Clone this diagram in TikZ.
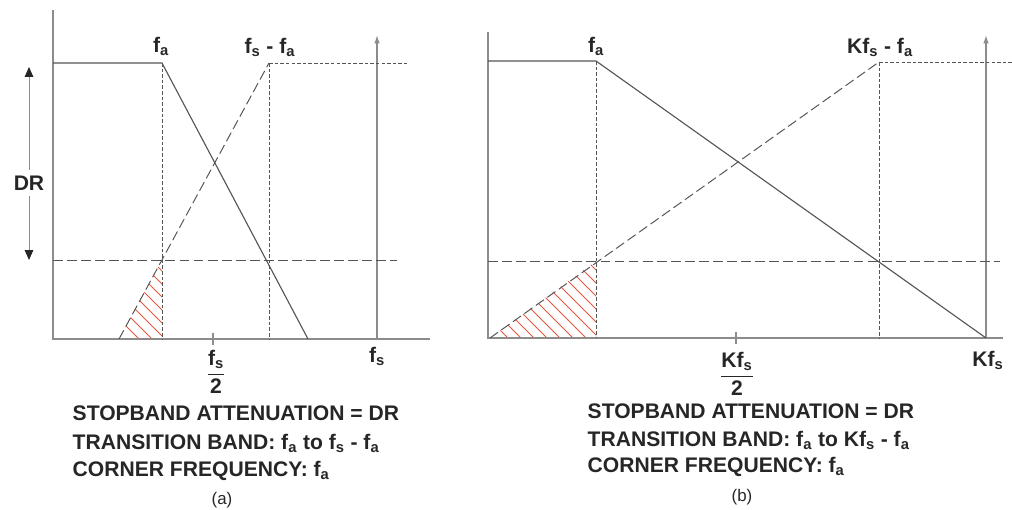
\documentclass[tikz,border=0pt]{standalone}
\usepackage{amsmath}
\usepackage{fontspec}
\setmainfont{Liberation Sans}
\usetikzlibrary{arrows.meta, positioning}
\definecolor{axisgray}{HTML}{8C8C8C}
\definecolor{linegray}{HTML}{555555}
\definecolor{hatchred}{HTML}{E8553F}

\begin{document}
\begin{tikzpicture}[x=0.025cm, y=-0.025cm,
  axis/.style={draw=axisgray, line width=1pt},
  resp/.style={draw=linegray, line width=0.8pt},
  longdash/.style={draw=linegray, line width=0.7pt, dash pattern=on 7pt off 3pt},
  shortdash/.style={draw=linegray, line width=0.6pt, dash pattern=on 2.5pt off 1.5pt},
  hatch/.style={draw=hatchred, line width=0.7pt},
  drarrow/.style={draw=axisgray, line width=0.7pt, -{Triangle[length=7pt,width=6pt,color=black!85,fill=black!85]}},
  every node/.style={font=\fontsize{15}{17}\selectfont\bfseries, text=black!85, inner sep=1pt}]
\useasboundingbox (0,0) rectangle (1012,510);

% (a) points
\coordinate (ao) at (53,339);
\coordinate (aytop) at (53,10);
\coordinate (axend) at (430,339);
\coordinate (apass) at (53,63);
\coordinate (afa) at (162,63);
\coordinate (afabot) at (162,339);
\coordinate (afadr) at (162,260);
\coordinate (afall) at (308,339);
\coordinate (arise) at (119,339);
\coordinate (afsfa) at (269,63);
\coordinate (afsfabot) at (269,339);
\coordinate (atopend) at (407,63);
\coordinate (adrl) at (53,260);
\coordinate (adrr) at (397,260);
\coordinate (afsbot) at (377,339);
\coordinate (afstop) at (377,35);
\coordinate (atick) at (213,339);

% (a) hatching
\begin{scope}
\clip (arise) -- (afadr) -- (afabot) -- cycle;
\foreach \i in {0,...,10}
  \draw[hatch] (40+\i*13,240) -- ++(120,120);
\end{scope}

% (a) axes and curves
\draw[axis] (aytop) -- (ao) -- (axend);
\draw[axis, -{Latex[length=6pt,width=4pt]}] (afsbot) -- (afstop);
\draw[axis] ([yshift=-4]atick) -- ([yshift=4]atick);
\draw[resp] (apass) -- (afa) -- (afall);
\draw[longdash] (arise) -- (afsfa);
\draw[shortdash] (afsfa) -- (atopend);
\draw[shortdash] (afa) -- (afabot);
\draw[shortdash] (afsfa) -- (afsfabot);
\draw[longdash] (adrl) -- (adrr);

% (a) DR arrow
\node (dr) at (29,183) {DR};
\coordinate (drtop) at (29,67);
\coordinate (drbot) at (29,260);
\draw[drarrow] (dr.north) ++(0,-4) -- (drtop);
\draw[drarrow] (dr.south) ++(0,4) -- (drbot);

% (a) labels
\node (lafa) at (161,46) {f\textsubscript{a}};
\node (lafsfa) at (270,47) {f\textsubscript{s} - f\textsubscript{a}};
\node (lafs) at (377,356) {f\textsubscript{s}};
\node (lafs2) at (216,372) {$\dfrac{\textbf{f\textsubscript{s}}}{\textbf{2}}$};
\node[anchor=west] (ta1) at (71,413) {STOPBAND ATTENUATION = DR};
\node[anchor=west] (ta2) at (71,443) {TRANSITION BAND: f\textsubscript{a} to f\textsubscript{s} - f\textsubscript{a}};
\node[anchor=west] (ta3) at (71,471) {CORNER FREQUENCY: f\textsubscript{a}};
\node[font=\fontsize{12}{14}\selectfont] (capa) at (222,500) {(a)};

% (b) points
\coordinate (bo) at (488,338);
\coordinate (bytop) at (488,32);
\coordinate (bxend) at (1003,338);
\coordinate (bpass) at (488,61);
\coordinate (bfa) at (596,61);
\coordinate (bfabot) at (596,338);
\coordinate (bfadr) at (596,261);
\coordinate (bfall) at (986,338);
\coordinate (brise) at (490,338);
\coordinate (bkfsfa) at (879,62);
\coordinate (bkfsfabot) at (879,338);
\coordinate (btopend) at (1012,62);
\coordinate (bdrl) at (488,261);
\coordinate (bdrr) at (1000,261);
\coordinate (bkfsbot) at (986,338);
\coordinate (bkfstop) at (986,35);
\coordinate (btick) at (736,338);

% (b) hatching
\begin{scope}
\clip (brise) -- (bfadr) -- (bfabot) -- cycle;
\foreach \i in {0,...,16}
  \draw[hatch] (400+\i*13,230) -- ++(130,130);
\end{scope}

% (b) axes and curves
\draw[axis] (bytop) -- (bo) -- (bxend);
\draw[axis, -{Latex[length=6pt,width=4pt]}] (bkfsbot) -- (bkfstop);
\draw[axis] ([yshift=-4]btick) -- ([yshift=4]btick);
\draw[resp] (bpass) -- (bfa) -- (bfall);
\draw[longdash] (brise) -- (bkfsfa);
\draw[shortdash] (bkfsfa) -- (btopend);
\draw[shortdash] (bfa) -- (bfabot);
\draw[shortdash] (bkfsfa) -- (bkfsfabot);
\draw[longdash] (bdrl) -- (bdrr);

% (b) labels
\node (lbfa) at (596,46) {f\textsubscript{a}};
\node (lbkfsfa) at (880,47) {Kf\textsubscript{s} - f\textsubscript{a}};
\node (lbkfs) at (988,360) {Kf\textsubscript{s}};
\node (lbkfs2) at (737,374) {$\dfrac{\textbf{Kf\textsubscript{s}}}{\textbf{2}}$};
\node[anchor=west] (tb1) at (586,411) {STOPBAND ATTENUATION = DR};
\node[anchor=west] (tb2) at (586,440) {TRANSITION BAND: f\textsubscript{a} to Kf\textsubscript{s} - f\textsubscript{a}};
\node[anchor=west] (tb3) at (586,467) {CORNER FREQUENCY: f\textsubscript{a}};
\node[font=\fontsize{12}{14}\selectfont] (capb) at (742,497) {(b)};
\end{tikzpicture}
\end{document}
